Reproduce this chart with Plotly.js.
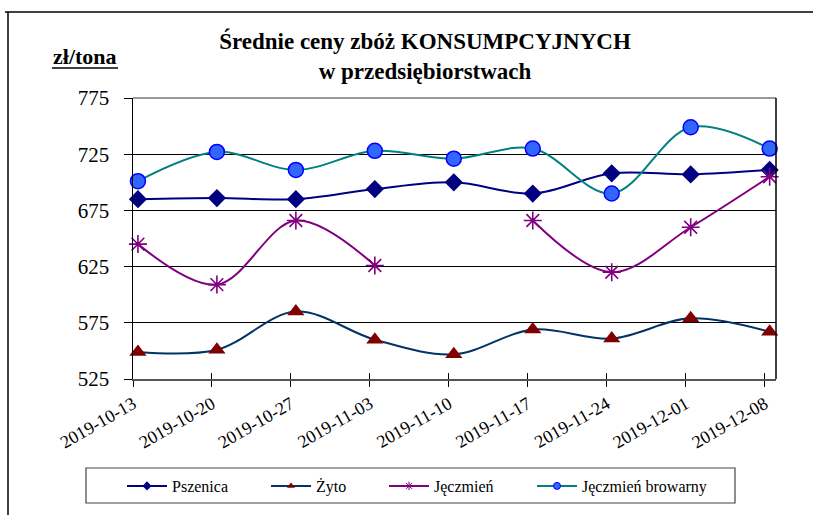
<!DOCTYPE html>
<html>
<head>
<meta charset="utf-8">
<script src="https://cdn.plot.ly/plotly-3.0.1.min.js"></script>
<style>
html,body{margin:0;padding:0;background:#fff;}
#chart{width:813px;height:515px;}
#fontwarm{position:absolute;left:-9999px;top:0;font-family:'Liberation Serif';}
#fontwarm b{font-weight:bold;}
</style>
</head>
<body>
<span id="fontwarm">Średnie 2019 <b>KONSUMPCYJNYCH zł/tona</b></span>
<div id="chart"></div>
<script>
// ---- data ----
const dates = ['2019-10-13','2019-10-20','2019-10-27','2019-11-03','2019-11-10','2019-11-17','2019-11-24','2019-12-01','2019-12-08'];
const tickLabels = ['2019-10-13','2019-10-20','2019-10-27','2019-11-03','2019-11-10','2019-11-17','2019-11-24','2019-12-01','2019-12-08'];
const seriesNames = ['Pszenica','Żyto','Jęczmień','Jęczmień browarny'];
const pszenica = [685, 686, 685, 694, 700, 690, 708, 707, 711];
const zyto     = [549, 551, 585, 560, 547, 569, 561, 579, 567];
const jeczmien = [645, 609, 666, 626, null, 666, 620, 660, 705];
const browarny = [701, 727, 711, 728, 721, 730, 690, 749, 730];
const yTicks = [525, 575, 625, 675, 725, 775];

// ---- layout geometry ----
const W = 813, H = 515;
const L = 133, R = 776, T = 98, B = 379;
const px2x = p => (p - L) / (R - L);
const px2y = p => (B - p) / (B - T);
const serif = 'Liberation Serif';

const styles = [
  {line: '#000080', marker: {symbol: 'diamond', size: 14, color: '#000080'}},
  {line: '#003366', marker: {symbol: 'triangle-up', size: 15, color: '#800000'}},
  {line: '#800080', marker: {symbol: 'asterisk-open', size: 15, color: '#800080', line: {color: '#800080', width: 1.6}}},
  {line: '#008080', marker: {symbol: 'circle', size: 15, color: '#3366FF', line: {color: '#0000FF', width: 1.5}}}
];
const legendMarkers = [
  {symbol: 'diamond', size: 7, color: '#000080'},
  {symbol: 'triangle-up', size: 7, color: '#800000'},
  {symbol: 'asterisk-open', size: 7, color: '#800080', line: {color: '#800080', width: 1}},
  {symbol: 'circle', size: 7, color: '#3366FF', line: {color: '#0000FF', width: 1}}
];
const legendIds = ['legend', 'legend2', 'legend3', 'legend4'];
const legendStartPx = [122, 266, 384, 532];
const values = [pszenica, zyto, jeczmien, browarny];

const traces = [];
values.forEach((vals, i) => {
  traces.push({type: 'scatter', mode: 'lines+markers', name: seriesNames[i], x: dates, y: vals,
    xaxis: 'x', yaxis: 'y', showlegend: false, cliponaxis: false, connectgaps: false,
    line: {shape: 'spline', smoothing: 1, width: 2, color: styles[i].line},
    marker: styles[i].marker, hoverinfo: 'skip'});
});
values.forEach((vals, i) => {
  traces.push({type: 'scatter', mode: 'lines+markers', name: seriesNames[i], x: dates, y: vals.map(() => null),
    xaxis: 'x', yaxis: 'y', showlegend: true, legend: legendIds[i], hoverinfo: 'skip',
    line: {width: 2, color: styles[i].line}, marker: legendMarkers[i]});
});
traces.push({type: 'scatter', mode: 'markers', x: dates, y: dates.map(() => null), xaxis: 'x2', yaxis: 'y', showlegend: false, hoverinfo: 'skip'});
traces.push({type: 'scatter', mode: 'markers', x: dates, y: dates.map(() => null), xaxis: 'x3', yaxis: 'y', showlegend: false, hoverinfo: 'skip'});

const layout = {
  width: W, height: H,
  margin: {l: L, r: W - R, t: T, b: H - B},
  paper_bgcolor: '#fff', plot_bgcolor: '#fff',
  font: {family: serif, color: '#000'},
  showlegend: true,
  title: {text: 'Średnie ceny zbóż KONSUMPCYJNYCH<br>w przedsiębiorstwach',
    font: {family: serif, size: 23, weight: 'bold', color: '#000'},
    xref: 'paper', x: px2x(425), xanchor: 'center',
    yref: 'paper', y: px2y(84), yanchor: 'bottom'},
  xaxis: {type: 'date', range: ['2019-10-12 13:30', '2019-12-08 13:30'],
    showticklabels: false, ticks: '', showgrid: false, showline: false, zeroline: false},
  xaxis2: {type: 'date', overlaying: 'x', anchor: 'y', side: 'bottom',
    range: ['2019-10-13', '2019-12-09'],
    tickmode: 'array', tickvals: dates, ticktext: tickLabels, tickangle: -30,
    ticks: 'outside', ticklen: 6, tickcolor: '#000', tickwidth: 1,
    tickfont: {family: serif, size: 18, color: '#000'},
    showgrid: false, showline: true, linecolor: '#555', linewidth: 1.5, zeroline: false},
  xaxis3: {type: 'date', overlaying: 'x', anchor: 'y', side: 'bottom',
    range: ['2019-10-13', '2019-12-09'],
    tickmode: 'array', tickvals: dates, ticks: 'inside', ticklen: 6, tickcolor: '#000', tickwidth: 1,
    showticklabels: false, showgrid: false, showline: false, zeroline: false},
  yaxis: {range: [525, 775], tickmode: 'array', tickvals: yTicks,
    ticks: 'outside', ticklen: 8, tickcolor: '#000', ticklabelstandoff: 10,
    tickfont: {family: serif, size: 21, color: '#000'},
    showgrid: true, gridcolor: '#000', gridwidth: 1,
    showline: true, linecolor: '#000', linewidth: 1.5, zeroline: false},
  annotations: [
    {text: 'zł/tona', xref: 'paper', yref: 'paper', x: px2x(85), y: px2y(57),
     xanchor: 'center', yanchor: 'middle', showarrow: false,
     font: {family: serif, size: 22, weight: 'bold', color: '#000'}}
  ],
  shapes: [
    {type: 'line', xref: 'paper', yref: 'paper', x0: 0, x1: 1, y0: 1, y1: 1, line: {color: '#777', width: 1.5}, layer: 'above'},
    {type: 'line', xref: 'paper', yref: 'paper', x0: 1, x1: 1, y0: 0, y1: 1, line: {color: '#000', width: 1.5}, layer: 'above'},
    // underline of the unit label
    {type: 'line', xref: 'paper', yref: 'paper', x0: px2x(52), x1: px2x(118), y0: px2y(68), y1: px2y(68), line: {color: '#000', width: 1.5}},
    {type: 'rect', xref: 'paper', yref: 'paper', x0: px2x(86), x1: px2x(735), y0: px2y(468), y1: px2y(503),
     line: {color: '#444', width: 1.2}, fillcolor: 'rgba(0,0,0,0)', layer: 'below'},
    {type: 'line', xref: 'paper', yref: 'paper', x0: px2x(5), x1: px2x(813), y0: px2y(12), y1: px2y(12), line: {color: '#000', width: 1.5}},
    {type: 'line', xref: 'paper', yref: 'paper', x0: px2x(8), x1: px2x(8), y0: px2y(12), y1: px2y(515), line: {color: '#000', width: 1.5}}
  ]
};
legendIds.forEach((id, i) => {
  layout[id] = {orientation: 'h', x: px2x(legendStartPx[i]), xanchor: 'left', y: px2y(486), yanchor: 'middle',
    font: {family: serif, size: 16, color: '#000'}, borderwidth: 0, bgcolor: 'rgba(0,0,0,0)',
    itemwidth: 40, itemclick: false, itemdoubleclick: false};
});

function draw() {
  return Plotly.newPlot('chart', traces, layout, {displayModeBar: false, staticPlot: true});
}
const ready = (document.fonts && document.fonts.load)
  ? Promise.all([document.fonts.load('16px "Liberation Serif"'), document.fonts.load('bold 16px "Liberation Serif"')]).catch(() => null)
  : Promise.resolve();
ready.then(draw);
</script>
</body>
</html>
